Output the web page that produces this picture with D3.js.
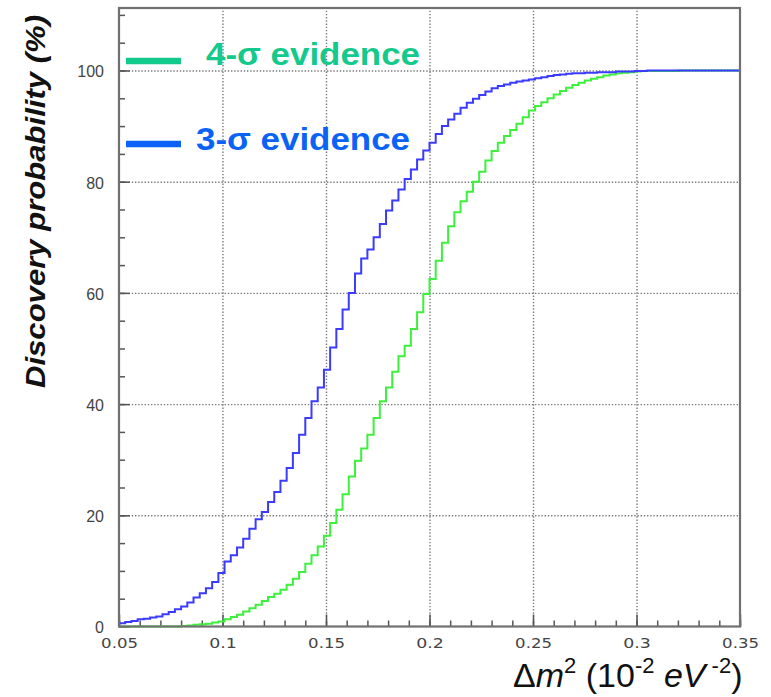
<!DOCTYPE html>
<html>
<head>
<meta charset="utf-8">
<script src="https://cdn.jsdelivr.net/npm/d3@7"></script>
<style>
  html, body { margin: 0; padding: 0; background: #fff; }
  svg { display: block; }
</style>
</head>
<body>
<svg id="chart" width="771" height="697"></svg>
<script>
// ---------------- data ----------------
const binLow = 0.05;
const binWidth = 0.003;   // 100 bins from 0.05 to 0.35
const xMajorTicks = [0.05, 0.1, 0.15, 0.2, 0.25, 0.3, 0.35];
const xTickLabels = ["0.05", "0.1", "0.15", "0.2", "0.25", "0.3", "0.35"];
const xGridTicks = [0.1, 0.15, 0.2, 0.25, 0.3];
const yMajorTicks = [0, 20, 40, 60, 80, 100];
const yTickLabels = ["0", "20", "40", "60", "80", "100"];
const yGridTicks = [20, 40, 60, 80, 100];
const seriesNames = ["4-\u03c3 evidence", "3-\u03c3 evidence"];

// discovery probability (%) per bin, 3-sigma evidence
const sigma3 = [
  0.6, 0.8, 1.0, 1.3, 1.4, 1.6, 1.8, 2.2, 2.6, 3.1,
  3.6, 4.3, 5.2, 6.0, 6.9, 8.0, 9.6, 11.7, 12.8, 14.2,
  15.8, 17.6, 19.3, 20.6, 22.4, 24.2, 26.2, 28.5, 31.2, 34.5,
  37.5, 40.5, 43.0, 46.2, 50.2, 53.5, 57.0, 60.0, 63.5, 66.2,
  67.8, 70.0, 72.4, 74.8, 76.6, 78.6, 80.5, 82.2, 84.0, 85.6,
  87.0, 88.6, 90.0, 91.2, 92.2, 93.3, 94.2, 94.9, 95.6, 96.2,
  96.8, 97.2, 97.5, 97.8, 98.0, 98.2, 98.4, 98.6, 98.8, 99.0,
  99.2, 99.3, 99.4, 99.5, 99.5, 99.6, 99.6, 99.7, 99.7, 99.7,
  99.8, 99.8, 99.8, 99.9, 99.9, 100, 100, 100, 100, 100,
  100, 100, 100, 100, 100, 100, 100, 100, 100, 100
];
// discovery probability (%) per bin, 4-sigma evidence
const sigma4 = [
  0, 0, 0, 0, 0, 0, 0, 0, 0, 0,
  0.1, 0.2, 0.3, 0.4, 0.5, 0.7, 0.9, 1.3, 1.7, 2.1,
  2.7, 3.3, 3.9, 4.6, 5.3, 5.9, 6.6, 7.5, 8.6, 9.8,
  11.3, 12.8, 14.4, 16.3, 18.6, 21.0, 23.8, 27.0, 29.8, 32.0,
  34.5, 37.5, 40.5, 43.0, 45.8, 48.6, 50.5, 53.5, 56.5, 59.8,
  62.5, 65.8, 69.0, 72.0, 74.5, 76.5, 78.2, 80.0, 81.8, 83.8,
  85.5, 87.0, 88.2, 89.3, 90.4, 91.6, 92.8, 93.6, 94.3, 95.0,
  95.7, 96.3, 96.9, 97.4, 97.8, 98.2, 98.5, 98.8, 99.1, 99.3,
  99.5, 99.6, 99.7, 99.8, 99.9, 99.9, 99.9, 99.9, 99.9, 99.9,
  100, 100, 100, 100, 100, 100, 100, 100, 100, 100
];

// ---------------- layout ----------------
const frame = { left: 119, right: 740, top: 8, bottom: 626.5 };
const yMax = 111.24;

const svg = d3.select("#chart");
const x = d3.scaleLinear().domain([0.05, 0.35]).range([frame.left, frame.right]);
const y = d3.scaleLinear().domain([0, yMax]).range([frame.bottom, frame.top]);

const axisColor = "#555";
const gridColor = "#7a7a7a";

// grid lines (dotted)
const gx = svg.append("g")
  .attr("transform", `translate(0,${frame.bottom})`)
  .call(d3.axisBottom(x).tickValues(xGridTicks).tickSize(-(frame.bottom - frame.top)).tickFormat(""));
gx.select(".domain").remove();
gx.selectAll("line").attr("stroke", gridColor).attr("stroke-width", 1.4).attr("stroke-dasharray", "1.4,1.8");

const gy = svg.append("g")
  .attr("transform", `translate(${frame.left},0)`)
  .call(d3.axisLeft(y).tickValues(yGridTicks).tickSize(-(frame.right - frame.left)).tickFormat(""));
gy.select(".domain").remove();
gy.selectAll("line").attr("stroke", gridColor).attr("stroke-width", 1.4).attr("stroke-dasharray", "1.4,1.8");

// minor ticks
const xMinor = d3.range(0, 31).map(i => +(0.05 + i * 0.01).toFixed(3));
const yMinor = d3.range(0, 23).map(i => i * 5);

const xm = svg.append("g")
  .attr("transform", `translate(0,${frame.bottom})`)
  .call(d3.axisBottom(x).tickValues(xMinor).tickSize(-6).tickFormat(""));
xm.select(".domain").remove();
xm.selectAll("line").attr("stroke", axisColor).attr("stroke-width", 1.5);

const ym = svg.append("g")
  .attr("transform", `translate(${frame.left},0)`)
  .call(d3.axisLeft(y).tickValues(yMinor).tickSize(-6).tickFormat(""));
ym.select(".domain").remove();
ym.selectAll("line").attr("stroke", axisColor).attr("stroke-width", 1.5);

// major ticks + labels
const xa = svg.append("g")
  .attr("transform", `translate(0,${frame.bottom})`)
  .call(d3.axisBottom(x).tickValues(xMajorTicks).tickSize(-12)
    .tickFormat((d, i) => xTickLabels[i]).tickPadding(12));
xa.select(".domain").remove();
xa.selectAll("line").attr("stroke", axisColor).attr("stroke-width", 1.5);
xa.selectAll("text")
  .attr("font-family", "'DejaVu Sans', sans-serif")
  .attr("font-size", 14)
  .attr("fill", "#444")
  .attr("y", 21)
  .attr("dy", 0)
  .attr("textLength", (d, i) => xTickLabels[i].length * 9.2)
  .attr("lengthAdjust", "spacingAndGlyphs");

const ya = svg.append("g")
  .attr("transform", `translate(${frame.left},0)`)
  .call(d3.axisLeft(y).tickValues(yMajorTicks).tickSize(-11)
    .tickFormat((d, i) => yTickLabels[i]).tickPadding(15));
ya.select(".domain").remove();
ya.selectAll("line").attr("stroke", axisColor).attr("stroke-width", 1.5);
ya.selectAll("text")
  .attr("font-family", "'Liberation Sans', Arial, sans-serif")
  .attr("font-size", 16)
  .attr("fill", "#444")
  .attr("dy", "0.4em");

// histograms (step lines)
function stepPoints(vals) {
  const pts = vals.map((v, i) => [binLow + i * binWidth, v]);
  pts.push([binLow + vals.length * binWidth, vals[vals.length - 1]]);
  return pts;
}
const line = d3.line().x(d => x(d[0])).y(d => y(d[1])).curve(d3.curveStepAfter);

svg.append("path").datum(stepPoints(sigma4))
  .attr("d", line).attr("fill", "none")
  .attr("stroke", "#3cf03c").attr("stroke-width", 2);
svg.append("path").datum(stepPoints(sigma3))
  .attr("d", line).attr("fill", "none")
  .attr("stroke", "#3b3bff").attr("stroke-width", 2);

// frame
svg.append("rect")
  .attr("x", frame.left).attr("y", frame.top)
  .attr("width", frame.right - frame.left).attr("height", frame.bottom - frame.top)
  .attr("fill", "none").attr("stroke", "#707070").attr("stroke-width", 2.2);

// legend
const legend = [
  { name: seriesNames[0], color: "#14c98c", lineY: 61, textX: 206, textY: 65, len: 214 },
  { name: seriesNames[1], color: "#0b63f6", lineY: 144, textX: 196, textY: 150, len: 214 }
];
legend.forEach(l => {
  svg.append("line")
    .attr("x1", 126).attr("x2", 181).attr("y1", l.lineY).attr("y2", l.lineY)
    .attr("stroke", l.color).attr("stroke-width", 6.5);
  svg.append("text")
    .attr("x", l.textX).attr("y", l.textY)
    .attr("font-family", "'Liberation Sans', Arial, sans-serif")
    .attr("font-weight", "bold").attr("font-size", 31)
    .attr("fill", l.color)
    .attr("textLength", l.len).attr("lengthAdjust", "spacingAndGlyphs")
    .text(l.name);
});

// y-axis title
svg.append("text")
  .attr("transform", "translate(45,388) rotate(-90)")
  .attr("font-family", "'Liberation Sans', Arial, sans-serif")
  .attr("font-weight", "bold").attr("font-style", "italic")
  .attr("font-size", 27).attr("fill", "#111")
  .attr("textLength", 373).attr("lengthAdjust", "spacingAndGlyphs")
  .text("Discovery probability (%)");

// x-axis title
const xt = svg.append("text")
  .attr("x", 513).attr("y", 687)
  .attr("font-family", "'Liberation Sans', Arial, sans-serif")
  .attr("font-size", 34).attr("fill", "#111");
xt.append("tspan").text("\u0394");
xt.append("tspan").attr("font-style", "italic").text("m");
xt.append("tspan").attr("font-size", 22).attr("dy", -14).text("2");
xt.append("tspan").attr("dy", 14).text(" (10");
xt.append("tspan").attr("font-size", 22).attr("dy", -14).text("-2");
xt.append("tspan").attr("dy", 14).attr("font-style", "italic").text(" eV");
xt.append("tspan").attr("font-size", 22).attr("dy", -14).text(" -2");
xt.append("tspan").attr("dy", 14).text(")");
</script>
</body>
</html>
